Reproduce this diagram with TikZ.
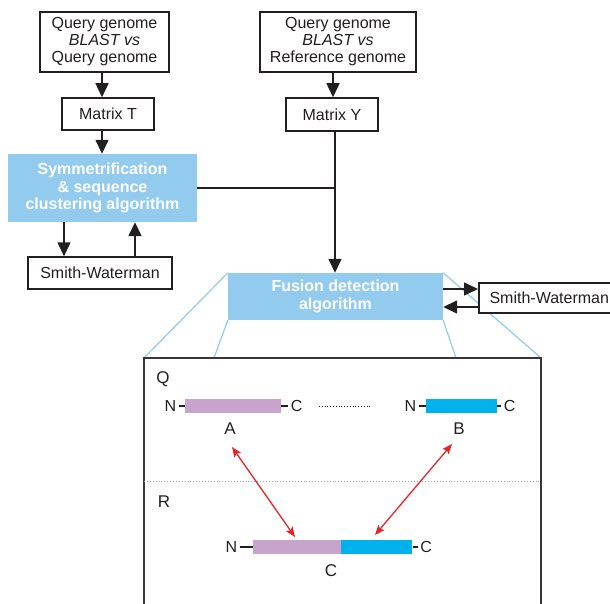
\documentclass[tikz,border=0pt]{standalone}
\usepackage{fontspec}
\setmainfont{Liberation Sans}
\usetikzlibrary{arrows.meta,positioning,backgrounds}
\definecolor{boxblue}{RGB}{146,203,238}
\definecolor{lilac}{RGB}{200,163,203}
\definecolor{cyanbar}{RGB}{0,178,236}
\definecolor{fusred}{RGB}{230,35,40}
\definecolor{ink}{RGB}{35,31,32}
\tikzset{
	plain/.style={draw=ink, line width=1.5pt, fill=white, align=center, inner sep=1pt, text=ink, font=\fontsize{16}{17}\selectfont},
	algo/.style={fill=boxblue, align=center, text=white, inner sep=1pt, font=\bfseries\fontsize{16}{17.5}\selectfont},
	flow/.style={draw=ink, line width=1.5pt, -{Triangle[length=14pt,width=13pt]}},
	zoomline/.style={draw=boxblue, line width=1.2pt},
	link/.style={draw=fusred, line width=1.3pt, {Stealth[length=10pt,width=8pt,inset=2pt]}-{Stealth[length=10pt,width=8pt,inset=2pt]}},
	bar/.style={minimum height=14pt, inner sep=0pt},
	lbl/.style={text=ink, inner sep=2.5pt, font=\fontsize{16}{17}\selectfont},
	tag/.style={text=ink, inner sep=0pt, font=\fontsize{17}{18}\selectfont}
}
\begin{document}
\begin{tikzpicture}[x=1pt,y=-1pt]
	\useasboundingbox (0,0) rectangle (610,604);
	\node[plain, minimum width=129, minimum height=60] (qq) at (104.5,42) {Query genome\\\textit{BLAST vs}\\Query genome};
	\node[plain, minimum width=156, minimum height=60] (qr) at (338,42) {Query genome\\\textit{BLAST vs}\\Reference genome};
	\node[plain, minimum width=92, minimum height=32] (mT) at (108,114) {Matrix T};
	\node[plain, minimum width=92, minimum height=33] (mY) at (332,114.5) {Matrix Y};
	\node[algo, minimum width=189, minimum height=68] (sym) at (102.5,188) {Symmetrification\\\& sequence\\clustering algorithm};
	\node[plain, minimum width=144, minimum height=32] (swL) at (100,273) {Smith-Waterman};
	\node[algo, minimum width=215, minimum height=47] (fus) at (335.5,296.5) {Fusion detection\\algorithm};
	\node[plain, minimum width=141, minimum height=30, anchor=west] (swR) at (478,298) {Smith-Waterman};

	\coordinate (pTL) at (144,358);
	\coordinate (pTR) at (541,358);
	\coordinate (zL) at (214,358);
	\coordinate (zR) at (456,358);
	\begin{scope}[on background layer]
		\draw[zoomline] (fus.north west) -- (pTL);
		\draw[zoomline] (fus.south west) -- (zL);
		\draw[zoomline] (fus.south east) -- (zR);
		\draw[zoomline] (fus.north east) -- (pTR);
	\end{scope}
	\draw[draw=ink!90, line width=1.5pt] (144,620) -- (pTL) -- (pTR) -- (541,620);

	\draw[flow] ([xshift=-2.5pt]qq.south) -- ([xshift=-2.5pt]qq.south |- mT.north);
	\draw[flow] ([xshift=-2.5pt]qq.south |- mT.south) -- ([xshift=-2.5pt]qq.south |- sym.north);
	\draw[flow] ([xshift=1pt]qr.south -| mY.north) -- ([xshift=1pt]mY.north);
	\draw[flow] ([xshift=3pt]mY.south) -- ([xshift=3pt]mY.south |- fus.north);
	\draw[draw=ink, line width=1.5pt] (sym.east) -- ([xshift=3pt]sym.east -| mY.south);
	\draw[flow] ([xshift=-38.5pt]sym.south) -- ([xshift=-38.5pt]sym.south |- swL.north);
	\draw[flow] ([xshift=32.5pt]sym.south |- swL.north) -- ([xshift=32.5pt]sym.south);
	\draw[flow] ([yshift=7.5pt]fus.east) -- ([yshift=7.5pt]fus.east -| swR.west);
	\draw[flow] ([yshift=-10.5pt]fus.east -| swR.west) -- ([yshift=-10.5pt]fus.east);

	\node[tag] (q) at (163,379) {Q};
	\node[tag] (r) at (164,502) {R};
	\draw[gray!70, line width=0.9pt, dotted] (144,481) -- (541,481);

	\node[bar, fill=lilac, minimum width=96] (barA) at (233,406) {};
	\node[bar, fill=cyanbar, minimum width=71] (barB) at (461.5,406) {};
	\node[bar, fill=lilac, minimum width=88] (barCa) at (297,547) {};
	\node[bar, fill=cyanbar, minimum width=71, anchor=west] (barCb) at (barCa.east) {};

	\node[lbl, left=6pt of barA] (nA) {N};
	\node[lbl, right=7pt of barA] (cA) {C};
	\node[lbl, left=7pt of barB] (nB) {N};
	\node[lbl, right=4pt of barB] (cB) {C};
	\node[lbl, left=13pt of barCa] (nC) {N};
	\node[lbl, right=5pt of barCb] (cC) {C};
	\foreach \a/\b in {nA/barA, barA/cA, nB/barB, barB/cB, nC/barCa, barCb/cC}
		{
			\draw[ink, line width=1.4pt] (\a) -- (\b);
		}
	\draw[ink, line width=0.8pt, dotted] (319,406) -- (372,406);

	\node[tag] (labA) at (230,429) {A};
	\node[tag] (labB) at (459,429) {B};
	\node[tag] (labC) at (331,571) {C};

	\coordinate (aTop) at (232,447);
	\coordinate (aBot) at (295,537);
	\coordinate (bTop) at (452,444);
	\coordinate (bBot) at (375,535);
	\draw[link] (aTop) -- (aBot);
	\draw[link] (bTop) -- (bBot);
\end{tikzpicture}
\end{document}
